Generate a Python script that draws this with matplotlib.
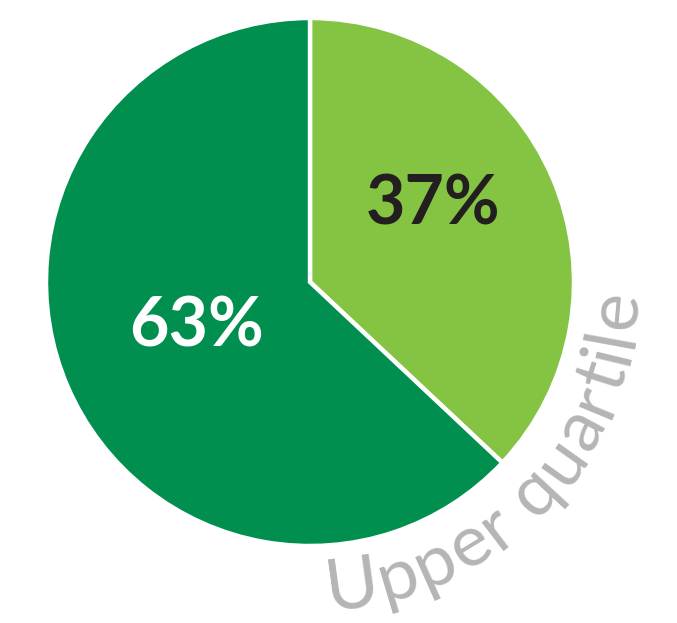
import numpy as np
import matplotlib
matplotlib.use('Agg')
from matplotlib import pyplot as plt
from matplotlib.font_manager import FontProperties
from matplotlib.textpath import TextToPath

# share of the group in each slice
labels = ['Upper quartile', 'Rest']
shares = [37, 63]
slice_colors = ['#85c342', '#008f4f']
pct_colors = ['#231f20', '#ffffff']
arc_label = 'Upper quartile'

DPI = 100
W, H = 677, 623
fig = plt.figure(figsize=(W / DPI, H / DPI), dpi=DPI)
ax = fig.add_axes([0, 0, 1, 1])

cx, cy, r = 310, H - 282, 264
wedges, _ = ax.pie(shares, colors=slice_colors, startangle=90, counterclock=False,
                   center=(cx, cy), radius=r, frame=True,
                   wedgeprops=dict(edgecolor='white', linewidth=3.2))
ax.set_xlim(0, W)
ax.set_ylim(0, H)
ax.set_aspect('equal')
ax.axis('off')

# percentage labels
pct_pos = [(433, H - 205), (197, H - 327)]
for v, (x, y), c in zip(shares, pct_pos, pct_colors):
    ax.text(x, y, f'{v}%', ha='center', va='center', color=c,
            fontsize=49, family='Lato', weight='bold')

# curved label running along the outside of the pie
fp = FontProperties(family='Lato', weight='normal', size=52)
ttp = TextToPath()
def width_px(s):
    w, h, d = ttp.get_text_width_height_descent(s, fp, ismath=False)
    return w * DPI / 72.0

r_base = 328
r_space = 312
track = 0.5
theta0 = np.deg2rad(-87.0)
for i, ch in enumerate(arc_label):
    if ch == ' ':
        continue
    s = width_px(arc_label[:i]) + width_px(ch) / 2 + track * i
    th = theta0 + s / r_space
    x = cx + r_base * np.cos(th)
    y = cy + r_base * np.sin(th)
    ax.text(x, y, ch, fontproperties=fp, color='#b5b5b5',
            rotation=np.rad2deg(th) + 90, rotation_mode='anchor',
            ha='center', va='baseline')

fig.savefig('out.png', dpi=DPI)
